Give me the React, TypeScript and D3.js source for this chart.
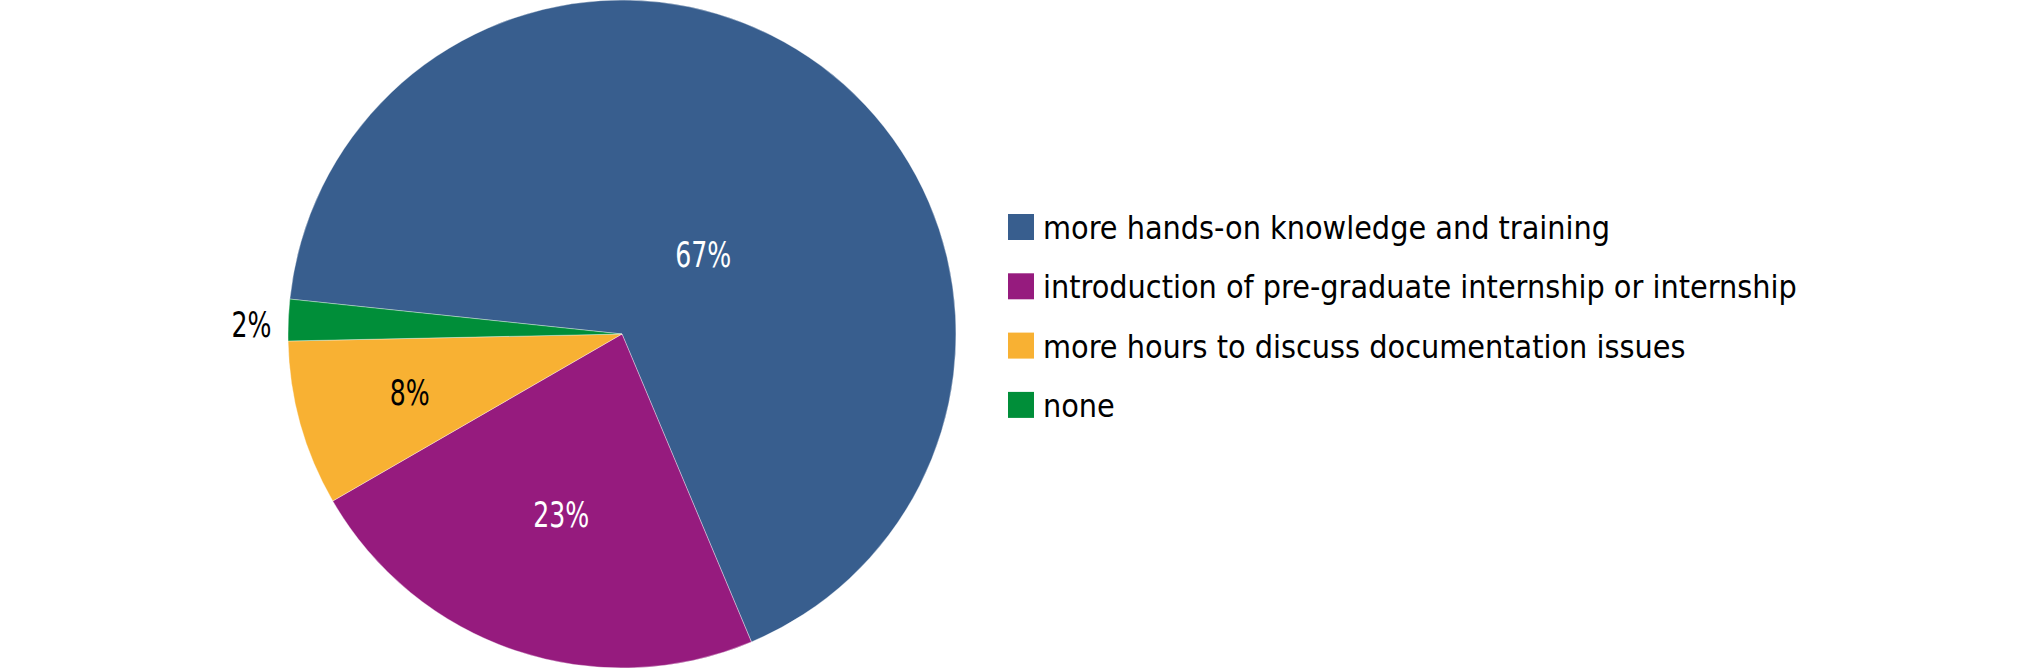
import React from "react";
import * as d3 from "d3";

const categories = [
  "more hands-on knowledge and training",
  "introduction of pre-graduate internship or internship",
  "more hours to discuss documentation issues",
  "none",
];
const values = [67, 23, 8, 2];
const labels = ["67%", "23%", "8%", "2%"];
const colors = ["#385E8E", "#961B7E", "#F8B133", "#008E39"];
const labelColors = ["#ffffff", "#ffffff", "#000000", "#000000"];

const W = 2020;
const H = 668;
const CX = 622;
const CY = 334;
const R = 334;
const START_DEG = -84;
const labelRadiusFrac = [0.34, 0.57, 0.66, 1.11];
const labelAngleShiftDeg = [9, 0, 0, -1];
const FONT = "'DejaVu Sans Condensed', 'DejaVu Sans', sans-serif";

export default function App() {
  const start = (START_DEG * Math.PI) / 180;
  const pie = d3
    .pie<number>()
    .sort(null)
    .startAngle(start)
    .endAngle(start + 2 * Math.PI);
  const arcs = pie(values);
  const arc = d3.arc<d3.PieArcDatum<number>>().innerRadius(0).outerRadius(R);

  const legendX = 1008;
  const legendY0 = 214;
  const legendStep = 59.3;
  const sq = 26;

  return (
    <svg
      width={W}
      height={H}
      style={{ position: "absolute", left: 0, top: 0, background: "#fff" }}
    >
      <g transform={`translate(${CX},${CY})`}>
        {arcs.map((a, i) => (
          <path
            key={i}
            d={arc(a) || ""}
            fill={colors[i]}
            stroke="#ffffff"
            strokeWidth={0.6}
            strokeOpacity={0.6}
          />
        ))}
        {arcs.map((a, i) => {
          const mid = (a.startAngle + a.endAngle) / 2 + (labelAngleShiftDeg[i] * Math.PI) / 180;
          const rr = R * labelRadiusFrac[i];
          const x = Math.sin(mid) * rr;
          const y = -Math.cos(mid) * rr;
          return (
            <g key={i} transform={`translate(${x},${y}) scale(0.8,1)`}>
              <text
                x={0}
                y={0}
                textAnchor="middle"
                dominantBaseline="central"
                fill={labelColors[i]}
                fontFamily={FONT}
                fontSize={35}
              >
                {labels[i]}
              </text>
            </g>
          );
        })}
      </g>
      <g>
        {categories.map((c, i) => (
          <g key={i} transform={`translate(${legendX},${legendY0 + i * legendStep})`}>
            <rect width={sq} height={sq} fill={colors[i]} />
            <text
              x={35}
              y={25}
              fontFamily={FONT}
              fontSize={32}
              fill="#000"
            >
              {c}
            </text>
          </g>
        ))}
      </g>
    </svg>
  );
}
